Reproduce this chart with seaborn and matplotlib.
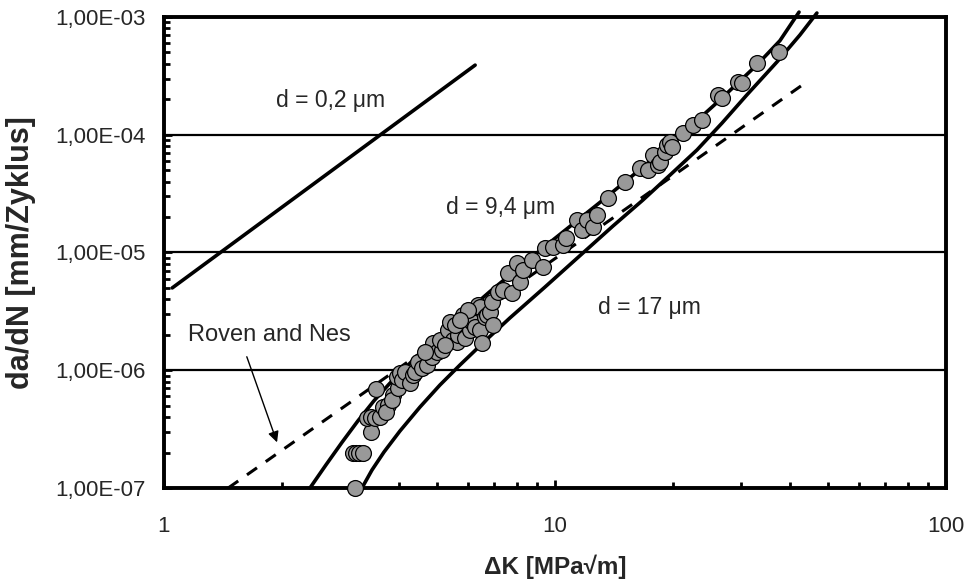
import matplotlib
matplotlib.use('Agg')
import matplotlib.pyplot as plt
import matplotlib.ticker as mticker
import seaborn as sns

# measured data: delta K [MPa sqrt(m)] vs da/dN [mm/cycle]
dK_data = [3.08, 3.04, 3.10, 3.15, 3.23, 3.39, 3.31, 3.39, 3.47, 3.57,
           3.49, 3.63, 3.74, 3.70, 3.85, 3.83, 3.97, 3.95, 4.02, 4.06,
           4.13, 4.26, 4.33, 4.39, 4.46, 4.57, 4.71, 4.85, 4.88, 4.99,
           5.14, 5.08, 5.33, 5.49, 5.62, 5.65, 5.82, 5.89, 6.06, 6.13,
           6.24, 6.43, 6.51, 6.35, 6.43, 6.62, 6.70, 6.82, 6.90, 6.94,
           7.15, 7.36, 7.58, 7.76, 7.99, 8.14, 8.28, 8.74, 9.32, 9.43,
           9.88, 10.5, 10.7, 11.38, 11.73, 12.07, 12.51, 12.81, 13.67, 15.10,
           16.50, 17.29, 17.81, 18.34, 18.56, 19.11, 19.34, 19.68, 19.93, 21.26,
           22.54, 23.77, 26.12, 26.74, 29.38, 30.08, 32.86, 37.41,
           4.65, 5.23, 5.39, 5.55, 5.99, 5.72]
dadN_data = [1.0e-7, 1.98e-7, 1.98e-7, 1.98e-7, 1.98e-7, 2.99e-7, 3.93e-7, 4.01e-7, 3.93e-7, 4.01e-7,
             6.93e-7, 4.87e-7, 5.07e-7, 4.42e-7, 6.16e-7, 5.59e-7, 7.07e-7, 8.76e-7, 9.47e-7, 8.26e-7,
             9.66e-7, 7.79e-7, 9.11e-7, 9.66e-7, 1.175e-6, 1.045e-6, 1.108e-6, 1.295e-6, 1.703e-6, 1.428e-6,
             1.485e-6, 1.806e-6, 2.196e-6, 1.806e-6, 1.737e-6, 1.992e-6, 2.94e-6, 1.878e-6, 2.196e-6, 2.57e-6,
             2.33e-6, 2.196e-6, 1.703e-6, 3.58e-6, 3.44e-6, 2.83e-6, 2.94e-6, 3.12e-6, 3.80e-6, 2.42e-6,
             4.62e-6, 4.80e-6, 6.70e-6, 4.53e-6, 8.14e-6, 5.62e-6, 7.10e-6, 8.64e-6, 7.53e-6, 1.092e-5,
             1.113e-5, 1.16e-5, 1.33e-5, 1.888e-5, 1.553e-5, 1.888e-5, 1.647e-5, 2.08e-5, 2.90e-5, 3.97e-5,
             5.22e-5, 5.02e-5, 6.73e-5, 5.53e-5, 5.87e-5, 7.14e-5, 8.18e-5, 8.68e-5, 7.87e-5, 1.035e-4,
             1.21e-4, 1.334e-4, 2.18e-4, 2.05e-4, 2.81e-4, 2.75e-4, 4.07e-4, 5.04e-4,
             1.428e-6, 1.638e-6, 2.57e-6, 2.42e-6, 3.25e-6, 2.67e-6]

# model curves for different grain sizes
dK_d02 = [1.05, 6.25]
dadN_d02 = [5.0e-6, 3.9e-4]

dK_d94 = [2.363, 2.597, 2.853, 3.135, 3.444, 3.784, 4.385, 5.08, 6.82, 9.43,
          13.03, 16.79, 20.88, 26.42, 32.86, 37.62, 42.1]
dadN_d94 = [1.0e-7, 1.573e-7, 2.44e-7, 3.72e-7, 5.50e-7, 7.76e-7, 1.265e-6, 1.99e-6, 4.66e-6, 1.127e-5,
            2.66e-5, 5.31e-5, 9.76e-5, 1.973e-4, 3.92e-4, 6.29e-4, 1.10e-3]

dK_d17 = [3.209, 3.404, 3.654, 4.015, 4.517, 5.08, 5.716, 6.624, 7.67, 9.432,
          11.79, 14.08, 16.79, 19.70, 23.08, 26.76, 30.97, 36.97, 42.32, 46.77]
dadN_d17 = [1.0e-7, 1.42e-7, 2.02e-7, 3.05e-7, 4.87e-7, 7.49e-7, 1.108e-6, 1.77e-6, 2.78e-6, 5.09e-6,
            9.9e-6, 1.68e-5, 2.79e-5, 4.55e-5, 7.42e-5, 1.258e-4, 2.18e-4, 4.15e-4, 7.03e-4, 1.08e-3]

# Roven and Nes
dK_roven = [1.46, 44.4]
dadN_roven = [1.0e-7, 2.86e-4]

y_ticks = [1e-7, 1e-6, 1e-5, 1e-4, 1e-3]
y_ticklabels = ['1,00E-07', '1,00E-06', '1,00E-05', '1,00E-04', '1,00E-03']
x_ticks = [1, 10, 100]
x_ticklabels = ['1', '10', '100']

sns.set_style('white')
plt.rcParams['font.family'] = ['Liberation Sans', 'DejaVu Sans']

fig = plt.figure(figsize=(9.69, 5.81), dpi=100)
ax = fig.add_axes([0.1692, 0.1601, 0.807, 0.8107])
ax.set_xscale('log')
ax.set_yscale('log')

ax.yaxis.grid(True, which='major', color='black', lw=1.6)
ax.xaxis.grid(False)
ax.set_axisbelow(True)

line_kw = dict(color='black', lw=2.6, sort=False, estimator=None, clip_on=False,
               ax=ax, solid_joinstyle='round')
sns.lineplot(x=dK_d02, y=dadN_d02, **line_kw)
sns.lineplot(x=dK_d94, y=dadN_d94, **line_kw)
sns.lineplot(x=dK_d17, y=dadN_d17, **line_kw)
sns.lineplot(x=dK_roven, y=dadN_roven, color='black', lw=2.2, sort=False,
             estimator=None, ax=ax, linestyle=(0, (4, 3.5)))

sns.scatterplot(x=dK_data, y=dadN_data, ax=ax, s=130, color='#999999',
                edgecolor='black', linewidth=0.9, zorder=5, clip_on=False)

ax.set_xlim(1, 100)
ax.set_ylim(1e-7, 1e-3)

ax.yaxis.set_major_locator(mticker.FixedLocator(y_ticks))
ax.yaxis.set_major_formatter(mticker.FixedFormatter(y_ticklabels))
ax.xaxis.set_major_locator(mticker.FixedLocator(x_ticks))
ax.xaxis.set_major_formatter(mticker.FixedFormatter(x_ticklabels))
ax.xaxis.set_minor_locator(mticker.LogLocator(base=10, subs=range(2, 10)))
ax.yaxis.set_minor_locator(mticker.LogLocator(base=10, subs=range(2, 10)))
ax.xaxis.set_minor_formatter(mticker.NullFormatter())
ax.yaxis.set_minor_formatter(mticker.NullFormatter())

ax.tick_params(which='both', direction='in', top=False, right=False,
               bottom=True, left=True, color='black')
ax.tick_params(which='major', length=6, width=2, labelsize=16)
ax.tick_params(which='minor', length=4, width=2)
ax.tick_params(axis='x', which='major', pad=20)
ax.tick_params(axis='y', which='major', pad=13)

for s in ax.spines.values():
    s.set_linewidth(2.8)
    s.set_color('black')

ax.text(2.66, 1.97e-4, 'd = 0,2 μm', fontsize=16.5, ha='center', va='center')
ax.text(7.28, 2.39e-5, 'd = 9,4 μm', fontsize=16.5, ha='center', va='center')
ax.text(17.4, 3.38e-6, 'd = 17 μm', fontsize=16.5, ha='center', va='center')
ax.text(1.856, 1.99e-6, 'Roven and Nes', fontsize=17, ha='center', va='center')
ax.annotate('', xy=(1.957, 2.32e-7), xytext=(1.62, 1.37e-6),
            arrowprops=dict(arrowstyle='-|>', color='black', lw=1.0,
                            mutation_scale=16))

ax.set_xlabel('ΔK [MPa√m]', fontsize=17.5, fontweight='bold')
ax.xaxis.set_label_coords(0.5, -0.142)
ax.set_ylabel('da/dN [mm/Zyklus]', fontsize=22, fontweight='bold')
ax.yaxis.set_label_coords(-0.163, 0.5)

plt.savefig('out.png', dpi=100)
